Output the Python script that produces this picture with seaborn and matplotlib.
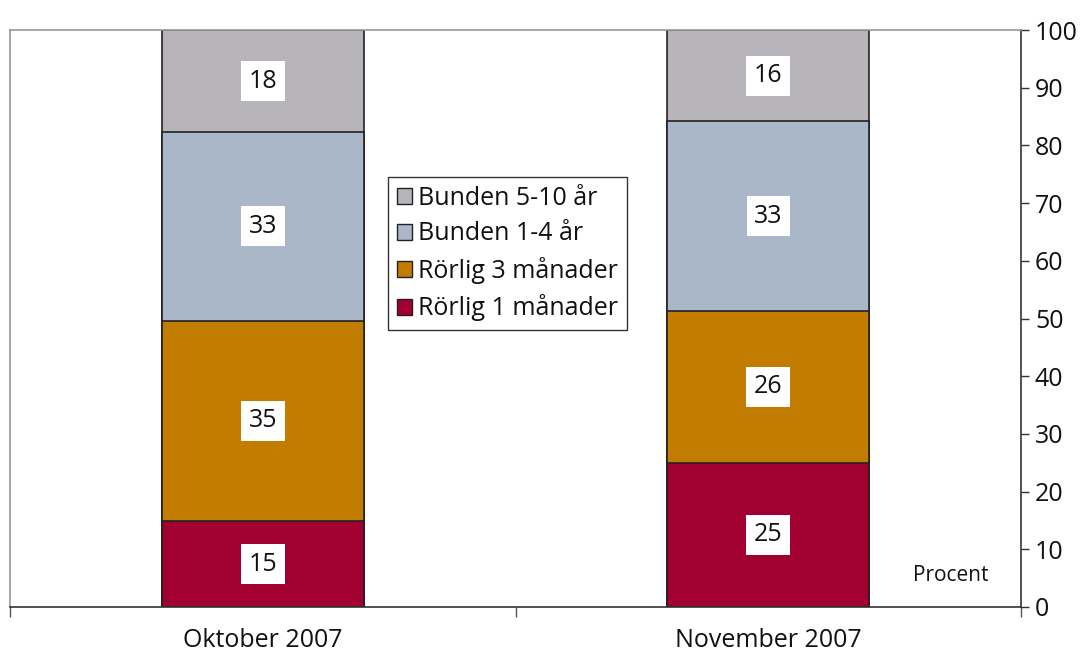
import numpy as np
import pandas as pd
import matplotlib
matplotlib.use("Agg")
import matplotlib.pyplot as plt
import seaborn as sns
from matplotlib.patches import Patch

categories = ["Oktober 2007", "November 2007"]
series_names = ["Rörlig 1 månader", "Rörlig 3 månader", "Bunden 1-4 år", "Bunden 5-10 år"]
rorlig_1 = [14.9, 25.0]
rorlig_3 = [34.7, 26.3]
bunden_1_4 = [32.7, 32.9]
bunden_5_10 = [17.7, 15.8]
colors = ["#A20030", "#C27D00", "#A9B7C9", "#B7B5BA"]
yticks = [0, 10, 20, 30, 40, 50, 60, 70, 80, 90, 100]

sns.set_theme(style="white")
plt.rcParams['font.family'] = ['Open Sans', 'DejaVu Sans']

series = [rorlig_1, rorlig_3, bunden_1_4, bunden_5_10]
df = pd.DataFrame({name: vals for name, vals in zip(series_names, series)})
df["cat"] = categories
cum = df[series_names].cumsum(axis=1)

fig = plt.figure(figsize=(10.88, 6.57), dpi=100)
ax = fig.add_axes([10/1088, 50/657, 1011/1088, 577/657])

# draw cumulative bars from top down
for i in range(len(series_names) - 1, -1, -1):
    d = pd.DataFrame({"cat": categories, "val": cum[series_names[i]].values})
    sns.barplot(data=d, x="cat", y="val", color=colors[i], width=0.4,
                edgecolor="#222222", linewidth=1.2, saturation=1, ax=ax, zorder=2)

# value labels
for j, cat in enumerate(categories):
    base = 0
    for i, name in enumerate(series_names):
        v = series[i][j]
        ax.text(j, base + v / 2, f"{v:.0f}", ha="center", va="center", fontsize=18,
                color="#111111", zorder=5,
                bbox=dict(boxstyle="square,pad=0.3", fc="white", ec="none"))
        base += v

ax.set_ylim(0, 100)
ax.set_xlim(-0.5, 1.5)
ax.set_xlabel("")
ax.set_ylabel("")
ax.yaxis.tick_right()
ax.set_yticks(yticks)
ax.set_yticklabels([str(t) for t in yticks], fontsize=18, color="#111111")
ax.tick_params(axis="y", which="major", direction="out", length=6, width=1, color="#333333", pad=4, right=True, left=False)
ax.set_xticks([0, 1])
ax.set_xticklabels(categories, fontsize=18, color="#111111")
ax.tick_params(axis="x", which="major", length=0, pad=15)
ax.set_xticks([-0.5, 0.5, 1.5], minor=True)
ax.tick_params(axis="x", which="minor", direction="out", length=7, width=1, color="#555555", bottom=True)

for s in ["top", "left"]:
    ax.spines[s].set_color("#999999")
    ax.spines[s].set_linewidth(1.2)
for s in ["bottom", "right"]:
    ax.spines[s].set_color("#333333")
    ax.spines[s].set_linewidth(1.2)

ax.text(0.968, 0.055, "Procent", transform=ax.transAxes, ha="right", va="center", fontsize=15, color="#111111")

handles = [Patch(facecolor=colors[i], edgecolor="#222222", label=series_names[i]) for i in range(3, -1, -1)]
leg = ax.legend(handles=handles, loc="upper left", bbox_to_anchor=(0.374, 0.745), fontsize=18,
                frameon=True, fancybox=False, framealpha=1, edgecolor="#333333",
                handlelength=0.6, handleheight=0.6, handletextpad=0.25, labelspacing=0.42,
                borderpad=0.35, borderaxespad=0)
for t in leg.get_texts():
    t.set_color("#111111")
leg.get_frame().set_linewidth(1.0)

fig.savefig("out.png", dpi=100)
